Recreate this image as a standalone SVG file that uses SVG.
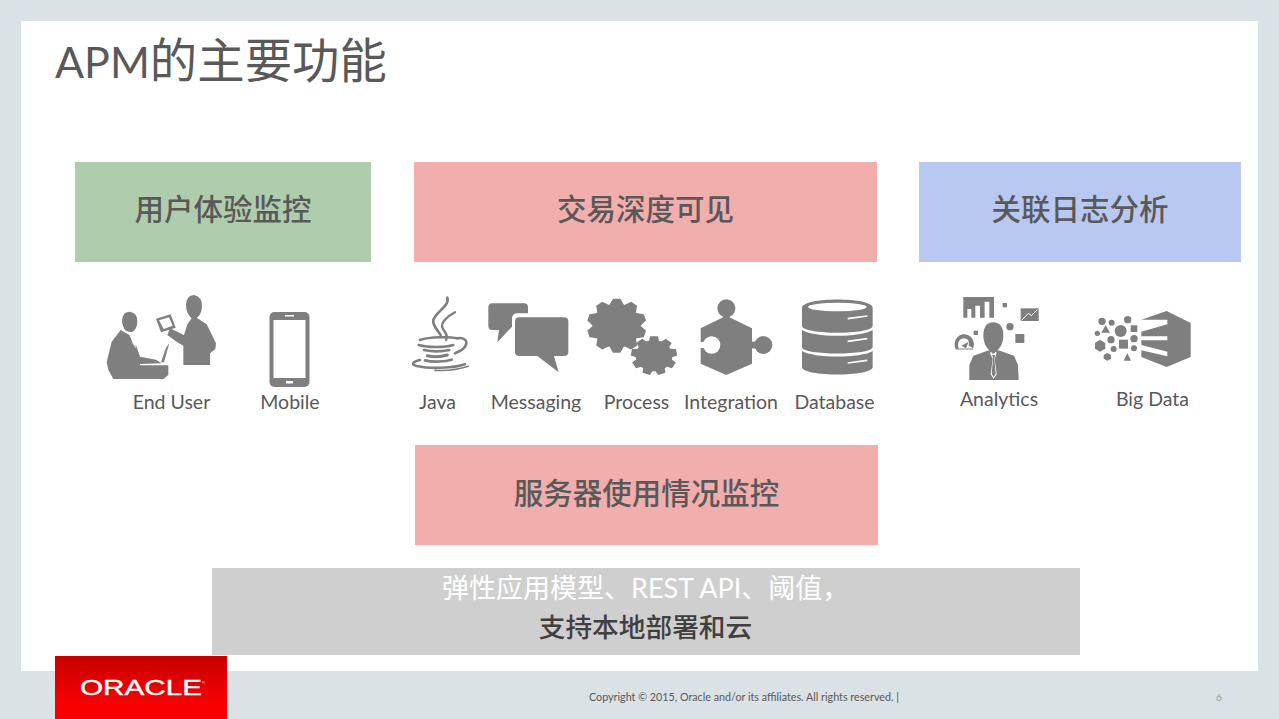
<svg xmlns="http://www.w3.org/2000/svg" width="1279" height="719" viewBox="0 0 1279 719">
<defs>
<linearGradient id="red" x1="0" y1="0" x2="0" y2="1"><stop offset="0" stop-color="#c80000"/><stop offset=".75" stop-color="#f80000"/></linearGradient>
<path id="t1" d="M640 41H660L672 64H628Z"/>
<path id="t2" d="M752 152H772L777 175H747Z"/>
</defs>
<style>
.lat{font-family:Lato,"Noto Sans CJK SC",sans-serif}
.cjk{font-family:"Noto Sans CJK SC",sans-serif;font-size:29.500px;font-weight:500;fill:#595959;text-anchor:middle}
.lab{font-family:Lato,sans-serif;font-size:19.500px;fill:#595959;text-anchor:middle}
.ic{fill:#7f7f7f}
.w{fill:#fff}
.gs{fill:none;stroke:#7f7f7f;stroke-linecap:round}
</style>
<rect width="1279" height="719" fill="#dae2e5"/>
<rect x="21" y="21" width="1237" height="650" fill="#fff"/>
<text x="55" y="78" font-size="43" fill="#595959" class="lat">APM<tspan font-size="47.400" style="font-family:'Noto Sans CJK SC',sans-serif">的主要功能</tspan></text>

<g id="node-user-experience"><rect x="75" y="162" width="296" height="100" fill="#afcdad"/><text class="cjk" x="223" y="220">用户体验监控</text></g>
<g id="node-transaction"><rect x="414" y="162" width="463" height="100" fill="#f2adad"/><text class="cjk" x="645.500" y="220">交易深度可见</text></g>
<g id="node-log"><rect x="919" y="162" width="322" height="100" fill="#b9c8f0"/><text class="cjk" x="1080" y="220">关联日志分析</text></g>

<g id="node-end-user">
<g class="ic" transform="translate(90 285) scale(.33333)">
<path d="M96 105Q98 80 120 80Q144 84 142 112Q140 136 124 142L108 138Q96 126 96 105Z"/>
<path d="M92 135L118 150L130 175L140 185L150 215L198 224L215 235L150 237V241H235V270L220 282H70L55 255L50 232L65 170Z"/>
<path d="M121 152L134 172L139 192L128 175Z" fill="#fff"/>
<path d="M213 232L228 188L238 175L222 232Z"/>
<path d="M288 60Q290 30 312 30Q338 36 336 65Q334 90 320 98L350 118L378 175L376 192L360 205V240H280V182L262 172L232 150L240 130L282 150L292 118L305 100Q288 85 288 60Z"/>
<path fill-rule="evenodd" d="M198 101L242 88L257 128L213 142ZM207 106L221 132L248 122L237 97Z"/>
</g>
<text class="lab" x="171.500" y="409">End User</text>
</g>
<g id="node-mobile">
<rect class="ic" x="269.500" y="312" width="40" height="75" rx="5"/>
<rect class="w" x="273.500" y="320" width="32" height="58"/>
<rect class="w" x="285" y="315" width="9" height="1.500"/>
<rect class="w" x="286" y="381" width="7" height="2.500"/>
<text class="lab" x="290" y="409">Mobile</text>
</g>

<g id="node-java">
<g transform="translate(400 285) scale(.33333)">
<path class="gs" stroke-width="8" d="M142 38C150 62 108 80 100 105C96 120 112 135 122 150"/>
<path class="gs" stroke-width="7" d="M165 82C140 95 120 115 128 130C134 142 146 150 138 165"/>
<path class="gs" stroke-width="8" d="M60 165C90 155 150 155 172 160C195 155 205 170 195 185C188 195 175 200 165 205"/>
<path class="gs" stroke-width="8" d="M56 180C85 188 135 188 160 180"/>
<path class="gs" stroke-width="8" d="M72 195C95 200 125 200 148 195"/>
<path class="gs" stroke-width="9" d="M82 212C100 216 125 215 142 210"/>
<path class="gs" stroke-width="8" d="M75 226C100 232 135 230 155 224"/>
<path class="gs" stroke-width="8" d="M60 225C40 230 30 238 50 243C90 252 160 250 195 238"/>
<path class="gs" stroke-width="5" d="M105 256C140 258 175 254 205 244"/>
</g>
<text class="lab" x="437.500" y="409">Java</text>
</g>
<g id="node-messaging">
<g transform="translate(400 285) scale(.33333)">
<path class="ic" d="M277 55H372Q384 55 384 67V85H352Q336 85 336 102V125L292 172L297 135H277Q265 135 265 123V67Q265 55 277 55Z"/>
<path class="ic" d="M358 97H492Q505 97 505 110V200Q505 213 492 213H462L476 262L412 213H358Q345 213 345 200V110Q345 97 358 97Z"/>
</g>
<text class="lab" x="536" y="409">Messaging</text>
</g>
<g id="node-process">
<g class="ic" transform="translate(400 285) scale(.33333)">
<g transform="translate(650 122) scale(1.1 1) translate(-650 -122)">
<circle cx="650" cy="122" r="66"/>
<use href="#t1"/>
<use href="#t1" transform="rotate(36 650 122)"/>
<use href="#t1" transform="rotate(72 650 122)"/>
<use href="#t1" transform="rotate(108 650 122)"/>
<use href="#t1" transform="rotate(144 650 122)"/>
<use href="#t1" transform="rotate(180 650 122)"/>
<use href="#t1" transform="rotate(216 650 122)"/>
<use href="#t1" transform="rotate(252 650 122)"/>
<use href="#t1" transform="rotate(288 650 122)"/>
<use href="#t1" transform="rotate(324 650 122)"/>
</g>
<g transform="translate(762 212) scale(1.15 .97) translate(-762 -212)">
<circle cx="762" cy="212" r="48"/>
<use href="#t2"/>
<use href="#t2" transform="rotate(40 762 212)"/>
<use href="#t2" transform="rotate(80 762 212)"/>
<use href="#t2" transform="rotate(120 762 212)"/>
<use href="#t2" transform="rotate(160 762 212)"/>
<use href="#t2" transform="rotate(200 762 212)"/>
<use href="#t2" transform="rotate(240 762 212)"/>
<use href="#t2" transform="rotate(280 762 212)"/>
<use href="#t2" transform="rotate(320 762 212)"/>
</g>
</g>
<text class="lab" x="636.500" y="409">Process</text>
</g>
<g id="node-integration">
<g transform="translate(680 285) scale(.33333)">
<g class="ic">
<circle cx="139" cy="70" r="27"/><circle cx="250" cy="180" r="27"/>
<rect x="130" y="90" width="18" height="15"/><rect x="210" y="170" width="25" height="20"/>
<path d="M139 92L216 130V236L139 270L62 236V130Z"/>
</g>
<circle class="w" cx="95" cy="180" r="26"/>
<rect class="w" x="58" y="171" width="25" height="18"/>
</g>
<text class="lab" x="731" y="409">Integration</text>
</g>
<g id="node-database">
<g transform="translate(680 285) scale(.33333)">
<path class="ic" d="M366 68C366 35 578 35 578 68V122C578 150 366 150 366 122Z"/>
<ellipse class="w" cx="472" cy="66" rx="88" ry="13"/>
<path class="ic" d="M366 135C400 158 544 158 578 135V186C578 212 366 212 366 186Z"/>
<path class="ic" d="M366 198C400 220 544 220 578 198V246C578 276 366 276 366 246Z"/>
<path d="M503 101L562 93M503 169L562 161M503 234L562 226" stroke="#fff" stroke-width="5" fill="none"/>
</g>
<text class="lab" x="834.500" y="409">Database</text>
</g>

<g id="node-analytics">
<g class="ic" transform="translate(940 285) scale(.33333)">
<path d="M70 36H162V98H148V50H134V98H120V62H106V98H94V72H82V98H70Z"/>
<rect x="188" y="54" width="13" height="13"/>
<rect x="242" y="70" width="54" height="38"/>
<path d="M245 106L265 85L274 92L292 74" stroke="#fff" stroke-width="3" fill="none"/>
<circle cx="210" cy="125" r="11"/>
<rect x="226" y="147" width="27" height="27"/>
<rect x="101" y="137" width="13" height="13"/>
<path d="M160 112C180 112 190 128 190 150C190 178 176 200 160 200C144 200 130 178 130 150C130 128 140 112 160 112Z"/>
<path d="M88 285V240L100 212L140 198L152 195H170L182 198L222 212L234 240L236 285Z"/>
<path d="M150 204L153 201L160 207L167 201L170 204L164 222L170 268L161 281L152 268L158 222Z" fill="#fff"/>
<path d="M157 210H165L163 222L167 266L161 276L155 266L159 222Z"/>
<path d="M48 194C36 170 54 148 72 148C90 148 108 166 100 190L86 182C90 170 84 160 72 160C60 160 50 172 56 190Z"/>
<path d="M64 182L86 170L78 190Z"/>
<path d="M50 192H100" stroke="#7f7f7f" stroke-width="3"/>
</g>
<text class="lab" x="999" y="406">Analytics</text>
</g>
<g id="node-bigdata">
<g class="ic" transform="translate(940 285) scale(.33333)">
<path d="M604 104L680 78L752 114V216L680 246L604 216V196L682 214V200L604 180V166H682V154H604V140L682 118V104Z"/>
<circle cx="486" cy="109" r="11"/><circle cx="515" cy="113" r="9"/><circle cx="563" cy="104" r="11"/>
<circle cx="542" cy="138" r="18"/><rect x="572" y="121" width="20" height="20"/>
<path d="M497 120L510 143H484Z"/><circle cx="472" cy="145" r="8"/>
<circle cx="513" cy="164" r="11"/><circle cx="582" cy="161" r="11"/>
<path d="M480 164L496 174V191L480 200L465 191V174Z"/>
<rect x="537" y="164" width="27" height="27"/><circle cx="521" cy="192" r="9"/><circle cx="582" cy="190" r="9"/>
<path d="M502 204L513 210V221L502 227L491 221V210Z"/>
<path d="M562 204L573 227H551Z"/>
</g>
<text class="lab" x="1152.500" y="406">Big Data</text>
</g>

<g id="node-server"><rect x="415" y="445" width="463" height="100" fill="#f2adad"/><text class="cjk" x="646.500" y="504">服务器使用情况监控</text></g>
<g id="node-model">
<rect x="212" y="568" width="868" height="87" fill="#cfcfcf"/>
<text x="442" y="598" font-size="27" fill="#fff" class="lat">弹性应用模型、REST API、阈值，</text>
<text x="645.500" y="637" font-size="26.700" fill="#404040" font-weight="500" text-anchor="middle" style="font-family:'Noto Sans CJK SC',sans-serif">支持本地部署和云</text>
</g>
<g id="logo">
<rect x="55" y="656" width="172" height="63" fill="url(#red)"/>
<text x="80" y="695" font-size="22" fill="#fff" stroke="#fff" stroke-width=".4" textLength="122" lengthAdjust="spacingAndGlyphs" style="font-family:'Liberation Sans',sans-serif">ORACLE</text>
<text x="202" y="684" font-size="4" fill="#fff" style="font-family:'Liberation Sans',sans-serif">®</text>
</g>
<text x="589" y="701" font-size="10.500" fill="#595959" textLength="310" lengthAdjust="spacingAndGlyphs" class="lat">Copyright © 2015, Oracle and/or its affiliates. All rights reserved.  |</text>
<text x="1216" y="701" font-size="10" fill="#999" class="lat">6</text>
</svg>
